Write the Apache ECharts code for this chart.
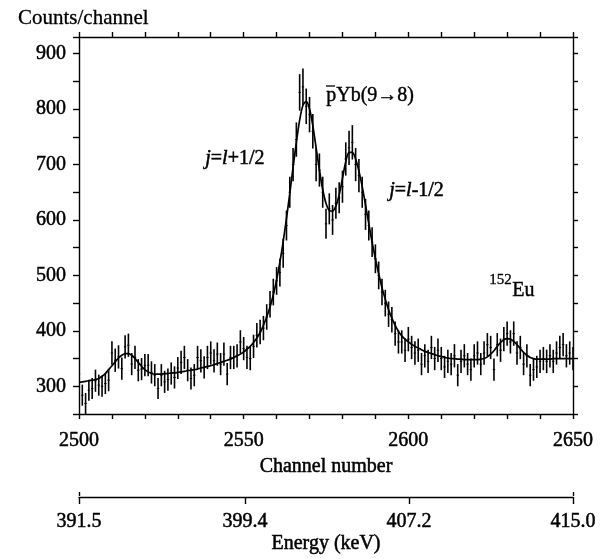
<!DOCTYPE html>
<html><head><meta charset="utf-8">
<script src="https://cdn.jsdelivr.net/npm/echarts@6/dist/echarts.min.js"></script>
<style>html,body{margin:0;padding:0;background:#fff}#c{width:608px;height:559px}</style>
</head><body><div id="c"></div>
<script>
const firstChannel = 2500;
const counts = [
322,284,269,293,296,310,302,300,305,311,
360,347,353,332,371,374,340,352,329,331,
338,338,325,320,296,320,308,312,323,316,
333,343,352,329,314,320,352,346,334,352,
360,346,358,340,358,322,352,352,355,380,
368,352,350,372,392,398,405,425,448,470,
490,505,540,590,650,700,745,830,840,805,
790,760,700,690,650,593,620,600,630,640,
660,710,730,740,700,680,650,610,590,560,
530,500,470,450,430,420,395,380,380,365,
385,370,360,365,340,355,345,370,350,365,
350,335,345,340,355,320,345,355,340,330,
355,360,340,360,375,370,330,375,365,385,
395,380,395,360,370,340,355,320,330,335,
345,350,345,355,345,360,370,375,355,360,
350];
const errors = [
20,19,19,19,19,20,19,19,19,20,
21,21,21,20,21,21,20,21,20,20,
20,20,20,20,19,20,20,20,20,20,
20,21,21,20,20,20,21,21,20,21,
21,21,21,20,21,20,21,21,21,21,
21,21,21,21,22,22,22,23,24,24,
25,25,26,27,28,30,31,33,33,32,
32,31,30,30,28,27,28,27,28,28,
29,30,31,31,30,30,28,28,27,27,
26,25,24,24,23,23,22,21,21,21,
22,21,21,21,20,21,21,21,21,21,
21,20,21,20,21,20,21,21,20,20,
21,21,20,21,21,21,20,21,21,22,
22,21,22,21,21,20,21,20,20,20,
21,21,21,21,21,21,21,21,21,21,
21];
const fitCurve = [
307,308,309,310,311,312,314,318,323,330,
337,344,351,356,359,359,356,350,343,336,
330,326,323,322,322,322,323,323,324,324,
325,326,327,328,329,330,331,333,334,336,
337,339,341,343,345,347,349,352,355,358,
362,367,372,379,387,397,410,425,443,465,
492,524,561,603,648,695,740,780,807,814,
800,770,730,690,655,630,617,616,625,645,
675,705,722,722,710,688,660,627,593,560,
530,503,478,457,438,423,410,399,391,385,
380,376,372,369,366,363,361,359,357,355,
354,352,351,350,350,349,349,348,348,348,
348,348,349,350,353,358,364,372,379,384,
386,385,381,375,368,361,356,352,350,349,
349,349,349,349,350,350,350,350,350,350,
350];
const channelLabels = [2500, 2550, 2600, 2650];
const countLabels = [300, 400, 500, 600, 700, 800, 900];
const energyLabels = [391.5, 399.4, 407.2, 415.0];
const energyEnds = [391.5, 415.0];

const FONT = '"Liberation Serif", "Times New Roman", serif';
const chart = echarts.init(document.getElementById('c'));

const barData = counts.map((c, i) => [firstChannel + i, c, errors[i]]);
const fitData = fitCurve.map((v, i) => [firstChannel + i, v]);

const axisLineStyle = { color: '#000', width: 1.4 };
const labelStyle = { color: '#000', fontFamily: FONT, fontSize: 20, textBorderColor: '#000', textBorderWidth: 0.5 };

chart.setOption({
  animation: false,
  backgroundColor: '#fff',
  title: {
    text: 'Counts/channel', left: 13, top: 3,
    textStyle: { fontFamily: FONT, fontSize: 21, fontWeight: 'normal', color: '#000', textBorderColor: '#000', textBorderWidth: 0.3 }
  },
  grid: [
    { left: 79, right: 35, top: 37, height: 377 },
    { left: 79, right: 35, top: 496, height: 1 }
  ],
  xAxis: [
    {
      type: 'value', gridIndex: 0, min: 2500, max: 2650, interval: 10, position: 'bottom',
      axisLine: { lineStyle: axisLineStyle },
      axisTick: { length: 5, lineStyle: axisLineStyle },
      axisLabel: Object.assign({ margin: 17, formatter: v => channelLabels.includes(v) ? String(v) : '' }, labelStyle),
      splitLine: { show: false },
      name: 'Channel number', nameLocation: 'middle', nameGap: 41,
      nameTextStyle: Object.assign({}, labelStyle)
    },
    {
      type: 'value', gridIndex: 0, min: 2500, max: 2650, interval: 10, position: 'top',
      axisLine: { lineStyle: axisLineStyle },
      axisTick: { length: 5, lineStyle: axisLineStyle },
      axisLabel: { show: false }, splitLine: { show: false }
    },
    {
      type: 'value', gridIndex: 1, min: 391.5, max: 415.0, position: 'bottom',
      axisLine: { lineStyle: axisLineStyle },
      axisTick: { length: 7, customValues: energyLabels, lineStyle: axisLineStyle },
      axisLabel: Object.assign({ margin: 15, customValues: energyLabels, formatter: v => v.toFixed(1) }, labelStyle),
      splitLine: { show: false },
      name: 'Energy (keV)', nameLocation: 'middle', nameGap: 37,
      nameTextStyle: Object.assign({}, labelStyle)
    },
    {
      type: 'value', gridIndex: 1, min: 391.5, max: 415.0, position: 'top',
      axisLine: { show: false },
      axisTick: { length: 4, customValues: energyEnds, lineStyle: axisLineStyle },
      axisLabel: { show: false }, splitLine: { show: false }
    }
  ],
  yAxis: [
    {
      type: 'value', gridIndex: 0, min: 250, max: 930, interval: 50, position: 'left',
      axisLine: { show: true, lineStyle: axisLineStyle },
      axisTick: { show: true, length: 6, lineStyle: axisLineStyle },
      axisLabel: Object.assign({ margin: 13, formatter: v => countLabels.includes(v) ? String(v) : '' }, labelStyle),
      splitLine: { show: false }
    },
    {
      type: 'value', gridIndex: 0, min: 250, max: 930, interval: 50, position: 'right',
      axisLine: { show: true, lineStyle: axisLineStyle },
      axisTick: { show: true, length: 5, lineStyle: axisLineStyle },
      axisLabel: { show: false }, splitLine: { show: false }
    },
    {
      type: 'value', gridIndex: 1, show: false
    }
  ],
  series: [
    {
      type: 'custom', xAxisIndex: 0, yAxisIndex: 0, clip: true,
      data: barData,
      renderItem: function (params, api) {
        const x = api.value(0), y = api.value(1), e = api.value(2);
        const top = api.coord([x, y + e]);
        const bot = api.coord([x, y - e]);
        const mid = api.coord([x, y]);
        return {
          type: 'group',
          children: [
            { type: 'line', shape: { x1: top[0], y1: top[1], x2: bot[0], y2: bot[1] },
              style: { stroke: '#000', lineWidth: 1.6 } },
            { type: 'line', shape: { x1: mid[0] - 1.2, y1: mid[1], x2: mid[0] + 1.2, y2: mid[1] },
              style: { stroke: '#000', lineWidth: 1 } }
          ]
        };
      }
    },
    {
      type: 'line', xAxisIndex: 0, yAxisIndex: 0, data: fitData,
      showSymbol: false, smooth: 0.3,
      lineStyle: { color: '#000', width: 1.7 }
    }
  ],
  graphic: [
    { type: 'text', left: 326, top: 86,
      style: { text: 'pYb(9\u21928)', fontFamily: FONT, fontSize: 20, fill: '#000', stroke: '#000', lineWidth: 0.4 } },
    { type: 'line', shape: { x1: 326, y1: 86, x2: 335, y2: 86 }, style: { stroke: '#000', lineWidth: 1.3 } },
    { type: 'text', left: 205, top: 148,
      style: { text: '{i|j}={i|l}+1/2', fontFamily: FONT, fontSize: 20, fill: '#000', stroke: '#000', lineWidth: 0.5,
        rich: { i: { fontStyle: 'italic', fontFamily: FONT, fontSize: 20 } } } },
    { type: 'text', left: 389, top: 180,
      style: { text: '{i|j}={i|l}-1/2', fontFamily: FONT, fontSize: 20, fill: '#000', stroke: '#000', lineWidth: 0.5,
        rich: { i: { fontStyle: 'italic', fontFamily: FONT, fontSize: 20 } } } },
    { type: 'text', left: 489, top: 272,
      style: { text: '152', fontFamily: FONT, fontSize: 15, fill: '#000', stroke: '#000', lineWidth: 0.3 } },
    { type: 'text', left: 512, top: 281,
      style: { text: 'Eu', fontFamily: FONT, fontSize: 20, fill: '#000', stroke: '#000', lineWidth: 0.4 } }
  ]
});
</script></body></html>
